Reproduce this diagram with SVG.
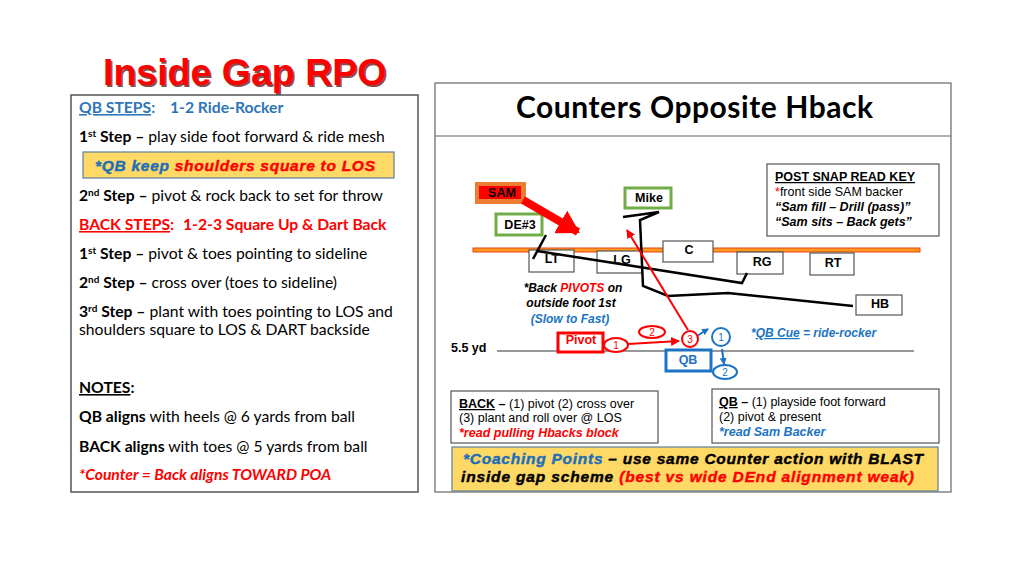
<svg xmlns="http://www.w3.org/2000/svg" width="1024" height="576" viewBox="0 0 1024 576">
<defs>
<style>
.cal{font-family:Lato,"Liberation Sans",sans-serif;font-size:15.7px;fill:#000}
.ar{font-family:"Liberation Sans",Arial,sans-serif}
.b{font-weight:bold}
.i{font-style:italic}
.u{text-decoration:underline}
.blue{fill:#2E75B6}
.dblue{fill:#1B73C4}
.red{fill:#FF0000}
.sup{font-size:10px}
.lbl{font-family:"Liberation Sans",Arial,sans-serif;font-weight:bold;font-size:12.5px;fill:#000;text-anchor:middle}
.box{fill:#fff;stroke:#555;stroke-width:1.2}
.gbox{fill:#fff;stroke:#70AD47;stroke-width:3}
.ln{fill:none;stroke:#000;stroke-width:2.5;stroke-linejoin:miter}
.heavy{stroke-width:0.45;paint-order:stroke}
</style>
<marker id="ahR" markerWidth="9" markerHeight="9" refX="8" refY="4.5" orient="auto" markerUnits="userSpaceOnUse"><path d="M0,0 L9,4.5 L0,9 z" fill="#FF0000"/></marker>
<marker id="ahB" markerWidth="7" markerHeight="7" refX="6" refY="3.5" orient="auto" markerUnits="userSpaceOnUse"><path d="M0,0 L7,3.5 L0,7 z" fill="#1B73C4"/></marker>
<marker id="ahBig" markerWidth="22" markerHeight="26" refX="20" refY="13" orient="auto" markerUnits="userSpaceOnUse"><path d="M0,0 L22,13 L0,26 z" fill="#FF0000"/></marker>
</defs>
<rect width="1024" height="576" fill="#fff"/>

<!-- Title -->
<g id="title">
<text x="104.5" y="86.5" class="ar b" font-size="37.5" fill="#5a0000" opacity="0.7">Inside Gap RPO</text>
<text x="103" y="85" class="ar b" font-size="37.5" fill="#FF0000">Inside Gap RPO</text>
</g>

<!-- Left panel -->
<g id="left-panel">
<rect x="71" y="95" width="347" height="397" fill="#fff" stroke="#555" stroke-width="1.5"/>
<text x="79" y="113" class="cal b blue"><tspan class="u">QB STEPS</tspan>:</text>
<text x="170" y="113" class="cal b blue">1-2 Ride-Rocker</text>
<text x="79" y="142" class="cal"><tspan class="b">1<tspan class="sup" dy="-5">st</tspan><tspan dy="5"> Step –</tspan></tspan> play side foot forward &amp; ride mesh</text>
<rect x="83" y="152" width="311" height="26" fill="#FFD966" stroke="#5E7F9C" stroke-width="1.2"/>
<text x="95" y="171" class="ar b i heavy" style="font-size:15.5px" textLength="280"><tspan fill="#1F6FB8" stroke="#1F6FB8">*QB keep </tspan><tspan fill="#FF0000" stroke="#FF0000">shoulders square to LOS</tspan></text>
<text x="79" y="201" class="cal"><tspan class="b">2<tspan class="sup" dy="-5">nd</tspan><tspan dy="5"> Step –</tspan></tspan> pivot &amp; rock back to set for throw</text>
<text x="79" y="230" class="cal b red"><tspan class="u">BACK STEPS</tspan>:</text>
<text x="183" y="230" class="cal b red">1-2-3 Square Up &amp; Dart Back</text>
<text x="79" y="259" class="cal"><tspan class="b">1<tspan class="sup" dy="-5">st</tspan><tspan dy="5"> Step –</tspan></tspan> pivot &amp; toes pointing to sideline</text>
<text x="79" y="288" class="cal"><tspan class="b">2<tspan class="sup" dy="-5">nd</tspan><tspan dy="5"> Step –</tspan></tspan> cross over (toes to sideline)</text>
<text x="79" y="317" class="cal"><tspan class="b">3<tspan class="sup" dy="-5">rd</tspan><tspan dy="5"> Step –</tspan></tspan> plant with toes pointing to LOS and</text>
<text x="79" y="335" class="cal">shoulders square to LOS &amp; DART backside</text>
<text x="79" y="393" class="cal b"><tspan class="u">NOTES</tspan>:</text>
<text x="79" y="422" class="cal"><tspan class="b">QB aligns</tspan> with heels @ 6 yards from ball</text>
<text x="79" y="452" class="cal"><tspan class="b">BACK aligns</tspan> with toes @ 5 yards from ball</text>
<text x="79" y="480" class="cal b i red">*Counter = Back aligns TOWARD POA</text>
</g>

<!-- Right panel frame -->
<g id="right-panel">
<rect x="435" y="83" width="516" height="409" fill="#fff" stroke="#666" stroke-width="1.2"/>
<line x1="435" y1="136" x2="951" y2="136" stroke="#666" stroke-width="1.2"/>
<text x="516" y="118" class="cal b" style="font-size:30px" textLength="357">Counters Opposite Hback</text>
</g>

<!-- Post snap read key -->
<g id="read-key">
<rect x="767" y="164" width="172" height="72" class="box"/>
<text x="775" y="181" class="ar b u" font-size="12.5">POST SNAP READ KEY</text>
<text x="775" y="196" class="ar" font-size="12.5"><tspan fill="#FF0000">*</tspan>front side SAM backer</text>
<text x="775" y="211" class="ar b i" font-size="12.5">“Sam fill – Drill (pass)”</text>
<text x="775" y="226" class="ar b i" font-size="12.5">“Sam sits – Back gets”</text>
</g>

<!-- LOS -->
<rect x="473" y="248" width="447" height="4" fill="#FF9A1A" stroke="#E8401C" stroke-width="1"/>

<!-- 5.5 yd line -->
<g id="yard-line">
<line x1="497" y1="351" x2="914" y2="351" stroke="#777" stroke-width="1.5"/>
<text x="451" y="352" class="ar b" font-size="12.5">5.5 yd</text>
</g>

<!-- Defenders -->
<g id="node-sam">
<rect x="475" y="182" width="51" height="22" fill="#ED7D31"/>
<rect x="479" y="186" width="42" height="13" fill="#FF0000"/>
<text x="502" y="197" class="lbl">SAM</text>
</g>
<g id="node-de3">
<rect x="496" y="214" width="46" height="21" class="gbox"/>
<text x="520" y="229" class="lbl">DE#3</text>
</g>
<g id="node-mike">
<rect x="625" y="188" width="46" height="20" class="gbox"/>
<text x="649" y="202" class="lbl">Mike</text>
</g>

<!-- Offensive line -->
<g id="node-lt"><rect x="529" y="250" width="45" height="22" class="box"/><text x="552" y="263" class="lbl">LT</text></g>
<g id="node-lg"><rect x="597" y="251" width="45" height="22" class="box"/><text x="622" y="264" class="lbl">LG</text></g>
<g id="node-c"><rect x="663" y="241" width="50" height="21" class="box"/><text x="689" y="254" class="lbl">C</text></g>
<g id="node-rg"><rect x="737" y="252" width="46" height="22" class="box"/><text x="762" y="266" class="lbl">RG</text></g>
<g id="node-rt"><rect x="810" y="253" width="44" height="22" class="box"/><text x="833" y="267" class="lbl">RT</text></g>
<g id="node-hb"><rect x="856" y="295" width="46" height="20" class="box"/><text x="880" y="308" class="lbl">HB</text></g>

<!-- Back / QB -->
<g id="node-pivot">
<rect x="558" y="333" width="45" height="19" fill="#fff" stroke="#FF0000" stroke-width="3"/>
<text x="581" y="344" class="lbl" style="fill:#FF0000">Pivot</text>
</g>
<g id="node-qb">
<rect x="666" y="350" width="45" height="21" fill="#fff" stroke="#1B73C4" stroke-width="3"/>
<text x="688" y="364" class="lbl" style="fill:#1B73C4">QB</text>
</g>

<!-- Connectors -->
<g id="connectors">
<line x1="523" y1="200" x2="578" y2="232" stroke="#FF0000" stroke-width="8" marker-end="url(#ahBig)"/>
<path class="ln" d="M546,235 L533,259"/>
<path class="ln" d="M537,251 L742,283 L747,273"/>
<path class="ln" d="M623,217 L659,212 L640,220 L643,286 L668,296 L728,293 L853,306"/>
<line x1="688" y1="330" x2="627" y2="230" stroke="#FF0000" stroke-width="2" marker-end="url(#ahR)"/>
<line x1="628" y1="344" x2="679" y2="341" stroke="#FF0000" stroke-width="2" marker-end="url(#ahR)"/>
<line x1="697" y1="336" x2="708" y2="329" stroke="#1B73C4" stroke-width="2" marker-end="url(#ahB)"/>
<line x1="722" y1="349" x2="724" y2="364" stroke="#1B73C4" stroke-width="2" marker-end="url(#ahB)"/>
</g>

<!-- Step circles -->
<g id="step-r1"><ellipse cx="616" cy="345" rx="12" ry="7" fill="#fff" stroke="#FF0000" stroke-width="2"/><text x="616" y="349" class="ar" font-size="10" fill="#FF0000" text-anchor="middle">1</text></g>
<g id="step-r2"><ellipse cx="652" cy="332" rx="13" ry="6" fill="#fff" stroke="#FF0000" stroke-width="2"/><text x="652" y="336" class="ar" font-size="10" fill="#FF0000" text-anchor="middle">2</text></g>
<g id="step-r3"><circle cx="690" cy="339" r="8" fill="#fff" stroke="#FF0000" stroke-width="2"/><text x="690" y="343" class="ar" font-size="10" fill="#FF0000" text-anchor="middle">3</text></g>
<g id="step-b1"><circle cx="721" cy="337" r="9" fill="#fff" stroke="#1B73C4" stroke-width="2"/><text x="721" y="341" class="ar" font-size="10" fill="#1B73C4" text-anchor="middle">1</text></g>
<g id="step-b2"><ellipse cx="725" cy="372" rx="12" ry="7" fill="#fff" stroke="#1B73C4" stroke-width="2"/><text x="725" y="376" class="ar" font-size="10" fill="#1B73C4" text-anchor="middle">2</text></g>

<!-- Annotations -->
<g id="notes-diagram">
<text x="573" y="292" class="ar b i" font-size="12" text-anchor="middle">*Back <tspan fill="#FF0000">PIVOTS</tspan> on</text>
<text x="571" y="307" class="ar b i" font-size="12" text-anchor="middle">outside foot 1st</text>
<text x="570" y="323" class="ar b i dblue" font-size="12" text-anchor="middle">(Slow to Fast)</text>
<text x="751" y="337" class="ar b i dblue" font-size="12">*<tspan class="u">QB Cue</tspan> = ride-rocker</text>
</g>

<!-- Bottom boxes -->
<g id="back-box">
<rect x="451" y="391" width="207" height="52" class="box"/>
<text x="459" y="408" class="ar" font-size="12.5"><tspan class="b u">BACK</tspan><tspan class="b"> –</tspan> (1) pivot (2) cross over</text>
<text x="459" y="422" class="ar" font-size="12.5">(3) plant and roll over @ LOS</text>
<text x="459" y="437" class="ar b i red" font-size="12.5">*read pulling Hbacks block</text>
</g>
<g id="qb-box">
<rect x="712" y="389" width="227" height="54" class="box"/>
<text x="719" y="406" class="ar" font-size="12.5"><tspan class="b u">QB</tspan><tspan class="b"> –</tspan> (1) playside foot forward</text>
<text x="719" y="421" class="ar" font-size="12.5">(2) pivot &amp; present</text>
<text x="719" y="436" class="ar b i dblue" font-size="12.5">*read Sam Backer</text>
</g>
<g id="coaching-box">
<rect x="452" y="447" width="486" height="44" fill="#FFD966" stroke="#5E7F9C" stroke-width="1.2"/>
<text x="463" y="464" class="ar b i heavy" style="font-size:15.5px" textLength="460"><tspan fill="#1F6FB8" stroke="#1F6FB8">*Coaching Points</tspan><tspan stroke="#000"> – use same Counter action with BLAST</tspan></text>
<text x="461" y="482" class="ar b i heavy" style="font-size:15.5px" textLength="453"><tspan stroke="#000">inside gap scheme </tspan><tspan fill="#FF0000" stroke="#FF0000">(best vs wide DEnd alignment weak)</tspan></text>
</g>
</svg>
